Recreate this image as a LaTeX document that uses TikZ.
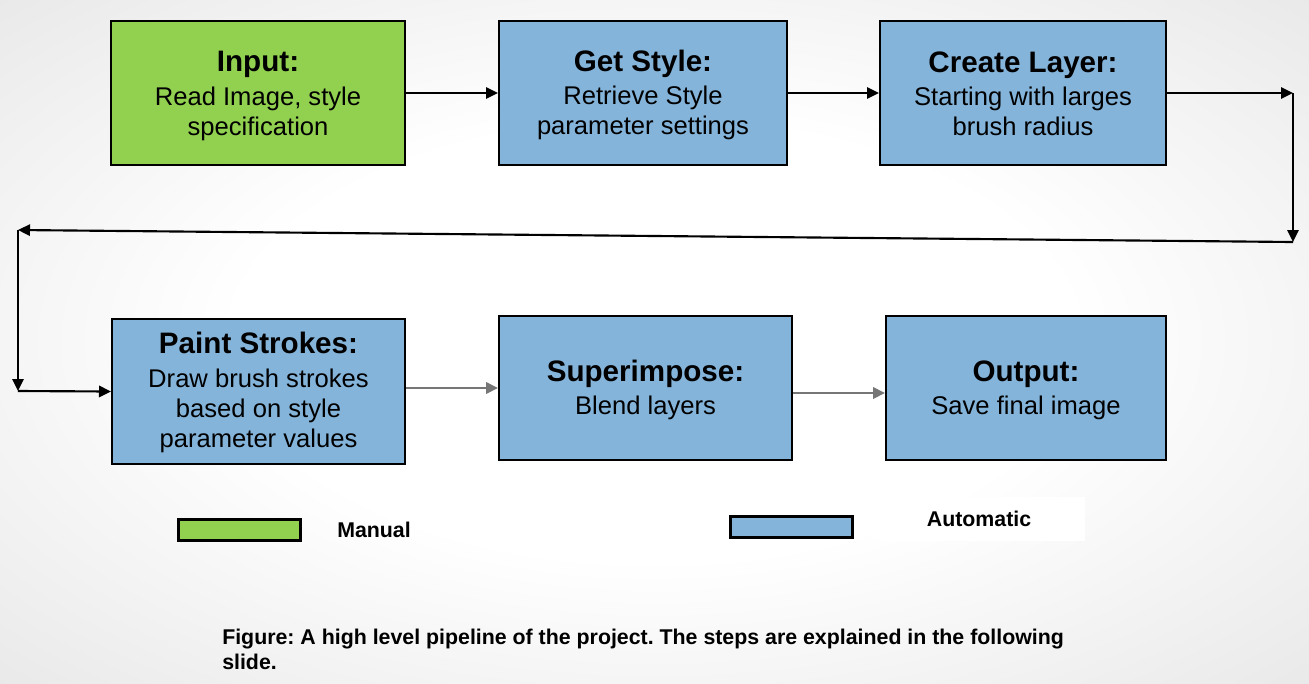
\documentclass[tikz,border=0pt]{standalone}
\usepackage{fontspec}
\setmainfont{Liberation Sans}
\usetikzlibrary{arrows.meta,calc}
\definecolor{mangreen}{HTML}{92D050}
\definecolor{autoblue}{HTML}{84B4DA}
\definecolor{arrgray}{HTML}{767676}
\pgfdeclareradialshading{bgshade}{\pgfpoint{0bp}{0bp}}{color(0bp)=(white); color(16bp)=(white); color(50bp)=(black!15); color(72bp)=(black!18)}
\tikzset{
  stepbox/.style={draw=black, line width=1.5pt, inner sep=0pt},
  steptext/.style={align=center, inner sep=0pt, font=\fontsize{19.2}{22.5}\selectfont},
  arr/.style={draw=black, line width=1.6pt, -{Triangle[length=9pt,width=8.5pt]}},
  garr/.style={draw=arrgray, line width=2.1pt, -{Triangle[length=9pt,width=8.5pt]}},
  legbox/.style={draw=black, line width=2.2pt, inner sep=0pt, minimum width=91pt, minimum height=16pt},
  legtext/.style={font=\fontsize{16}{19}\selectfont\bfseries, inner sep=0pt}
}
\newcommand{\boxtitle}[1]{{\fontsize{22.2}{26}\selectfont\bfseries #1}\\[2.5pt]}
\begin{document}
\frenchspacing
\begin{tikzpicture}[x=0.75pt,y=-0.75pt]
\useasboundingbox (0,0) rectangle (1309,683);
\shade[shading=bgshade] (0,0) rectangle (1309,683);

\node[stepbox, fill=mangreen, minimum width=220.5pt, minimum height=108pt] (in) at (258,93) {};
\node[steptext] (in-t) at ([yshift=-2.25pt]in.center) {\boxtitle{Input:}Read Image, style\\specification};
\node[stepbox, fill=autoblue, minimum width=216pt, minimum height=108pt] (gs) at (643,93) {};
\node[steptext] (gs-t) at ([yshift=-1.5pt]gs.center) {\boxtitle{Get Style:}Retrieve Style\\parameter settings};
\node[stepbox, fill=autoblue, minimum width=214.5pt, minimum height=108pt] (cl) at (1023,93) {};
\node[steptext] (cl-t) at ([yshift=-0.5pt]cl.center) {\boxtitle{Create Layer:}Starting with larges\\brush radius};
\node[stepbox, fill=autoblue, minimum width=219.75pt, minimum height=108.75pt] (ps) at (258.5,391.5) {};
\node[steptext] (ps-t) at ([yshift=-0.75pt]ps.center) {\boxtitle{Paint Strokes:}Draw brush strokes\\based on style\\parameter values};
\node[stepbox, fill=autoblue, minimum width=219.75pt, minimum height=108pt] (ss) at (645.5,388) {};
\node[steptext] (ss-t) at ([yshift=-1.5pt]ss.center) {\boxtitle{Superimpose:}Blend layers};
\node[stepbox, fill=autoblue, minimum width=210pt, minimum height=108pt] (out) at (1026,388) {};
\node[steptext] (out-t) at ([yshift=-1.5pt]out.center) {\boxtitle{Output:}Save final image};

\coordinate (c1) at (1293,93);
\coordinate (c2) at (1293,242);
\coordinate (c3) at (18,230);
\coordinate (c4) at (18,391);

\draw[arr] (in.east) -- (gs.west);
\draw[arr] (gs.east) -- (cl.west);
\draw[arr] (cl.east) -- (c1);
\draw[arr] (c1) -- (c2);
\draw[arr] (c2) -- (c3);
\draw[arr] (c3) -- (c4);
\draw[arr] (c4) -- (ps.west);
\draw[garr] (ps.east |- ss.west) -- (ss.west);
\draw[garr] ([yshift=-3.75pt]ss.east) -- ([yshift=-3.75pt]out.west);

\node[legbox, fill=mangreen] (lm) at (239.5,530) {};
\node[legtext] (lmt) at (374,530) {Manual};
\node[legbox, fill=autoblue] (la) at (791.5,527) {};
\node[fill=white, minimum width=159pt, minimum height=33pt, inner sep=0pt] (law) at (979,519) {};
\node[legtext] (lat) at (law.center) {Automatic};

\node[anchor=base west, align=left, inner sep=0pt, font=\fontsize{16}{18.75}\selectfont\bfseries] (cap) at (222,669)
  {Figure: A high level pipeline of the project. The steps are explained in the following\\slide.};
\end{tikzpicture}
\end{document}
